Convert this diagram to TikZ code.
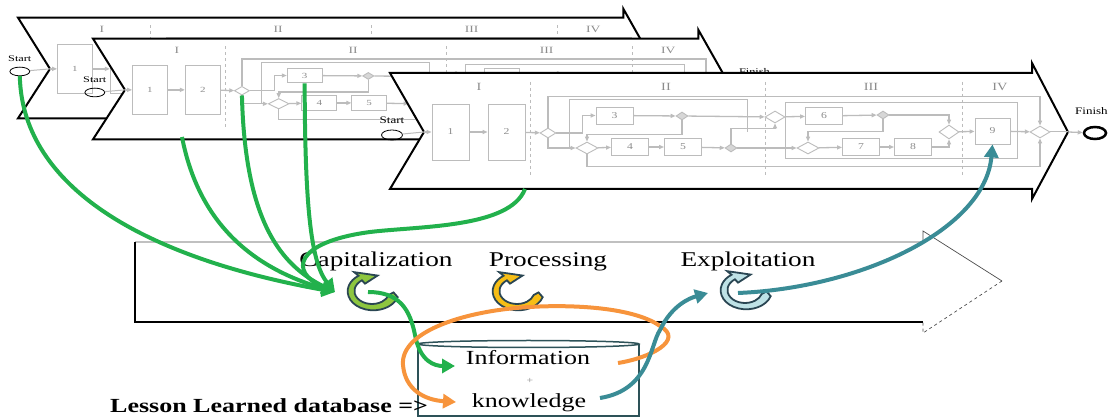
\documentclass[tikz,border=0pt]{standalone}
\usepackage{fontspec}
\setmainfont{Liberation Serif}[FakeStretch=1.3]
\usetikzlibrary{arrows.meta,shapes.geometric}

\definecolor{flytgraa}{RGB}{188,188,188}
\definecolor{tekstgraa}{RGB}{140,140,140}
\definecolor{kapgronn}{RGB}{34,177,76}
\definecolor{prosoransje}{RGB}{247,148,60}
\definecolor{utnteal}{RGB}{58,140,150}
\definecolor{ikonkant}{RGB}{42,70,83}
\definecolor{ikongronn}{RGB}{141,198,63}
\definecolor{ikongul}{RGB}{246,190,22}
\definecolor{ikonblaa}{RGB}{190,226,230}
\definecolor{dbkant}{RGB}{45,82,88}

\tikzset{
	lagkant/.style={draw=black,line width=2,fill=white},
	fase/.style={text=tekstgraa,font=\fontsize{11}{11}\selectfont,inner sep=0},
	skille/.style={draw=flytgraa,dashed,line width=0.8},
	boks/.style={draw=flytgraa,fill=white,line width=0.9,minimum width=37,
		minimum height=17,inner sep=0,text=tekstgraa,font=\fontsize{9}{9}\selectfont},
	ruter/.style={diamond,draw=flytgraa,fill=white,line width=0.9,
		minimum width=16,minimum height=10,inner sep=0},
	punkt/.style={ruter,minimum width=12,minimum height=8,fill=flytgraa!60},
	flyt/.style={draw=flytgraa,line width=1.3,-{Triangle[length=5pt,width=4pt]}},
	linje/.style={draw=flytgraa,line width=1},
	startring/.style={ellipse,draw=black,line width=0.8,minimum width=21,
		minimum height=10,inner sep=0},
	sluttring/.style={ellipse,draw=black,line width=2.5,minimum width=22,
		minimum height=12,inner sep=0},
	liten/.style={font=\fontsize{10}{10}\selectfont,inner sep=0},
	stor/.style={font=\fontsize{21}{21}\selectfont,inner sep=0,anchor=base},
	pil/.style={line width=4,-{Triangle[length=13pt,width=14pt]}},
	pics/ikon/.style={code={
		\filldraw[fill=#1,draw=ikonkant,line width=1.8] (5:16) -- (18:20)
			arc[start angle=18,end angle=235,radius=19] -- (235:23) -- (285:16)
			-- (235:9) -- (235:13) arc[start angle=235,end angle=18,radius=13] -- cycle;
	}}
}

% ett prosesslag (pil med flytskjema)
\newcommand\prosesslag[1]{%
	\filldraw[lagkant] (-34,-58) -- (608,-58) -- (608,-68) -- (644,1)
		-- (608,68) -- (608,58) -- (-34,58) -- (0,1) -- cycle;
	\foreach \x/\r in {55/I,242/II,447/III,576/IV}
		\node[fase] (#1fase\r) at (\x,-44) {\r};
	\foreach \x in {106,341,538}
		\draw[skille] (\x,-49) -- (\x,44);
	\coordinate (#1inn) at (0,1);
	\coordinate (#1spiss) at (644,1);
	\node[startring] (#1s) at (-32,4) {};
	\node[liten] (#1st) at (-32,-11) {Start};
	\node[sluttring] (#1e) at (671,2) {};
	\node[liten,anchor=west] (#1et) at (651,-20) {Finish};
	\node[boks,minimum height=56] (#1b1) at (26.5,1) {1};
	\node[boks,minimum height=56] (#1b2) at (82.5,1) {2};
	\node[boks] (#1b3) at (190.5,-15.5) {3};
	\node[boks] (#1b4) at (206,16) {4};
	\node[boks] (#1b5) at (259,16) {5};
	\node[boks] (#1b6) at (400,-15) {6};
	\node[boks] (#1b7) at (437,16) {7};
	\node[boks] (#1b8) at (489,16) {8};
	\node[boks,minimum width=35,minimum height=26] (#1b9) at (568.5,0) {9};
	\node[ruter] (#1d1) at (124,2) {};
	\node[ruter,minimum width=22,minimum height=12] (#1d2) at (163,17) {};
	\node[punkt] (#1m1) at (258,-15) {};
	\node[punkt] (#1m2) at (307,17) {};
	\node[ruter,minimum width=20,minimum height=12] (#1x1) at (351,-14) {};
	\node[punkt] (#1m3) at (459,-16) {};
	\node[ruter,minimum width=22,minimum height=12] (#1d3) at (384,17) {};
	\node[ruter,minimum width=20,minimum height=14] (#1d4) at (525,1) {};
	\node[ruter,minimum width=20,minimum height=12] (#1d5) at (616,1) {};
	\draw[linje] (#1s) -- (#1inn);
	\draw[flyt] (#1inn) -- (#1b1);
	\draw[flyt] (#1b1) -- (#1b2);
	\draw[flyt] (#1b2) -- (#1d1);
	\draw[flyt] (#1d1.east) -- ++(26,0) |- (#1b3);
	\draw[flyt] (#1d1.south) |- (#1d2);
	\draw[flyt] (#1d2) -- (#1b4);
	\draw[flyt] (#1b4) -- (#1b5);
	\draw[flyt] (#1b5) -- (#1m2);
	\draw[flyt] (#1b3) -- (#1m1);
	\draw[flyt] (#1m1.south) -- ++(0,14) -| (#1d2.north);
	\draw[flyt] (#1m1) -- (#1x1);
	\draw[flyt] (#1m2.north) -- ++(0,-15) -| (#1x1.south);
	\draw[flyt] (#1m2) -- (#1d3);
	\draw[flyt] (#1x1) -- (#1b6);
	\draw[flyt] (#1b6) -- (#1m3);
	\draw[flyt] (#1m3) -| (#1d4.north);
	\draw[flyt] (#1m3.south) -- ++(0,12) -| (#1d3.north);
	\draw[flyt] (#1d3) -- (#1b7);
	\draw[flyt] (#1b7) -- (#1b8);
	\draw[flyt] (#1b8) -| (#1d4.south);
	\draw[flyt] (#1d4) -- (#1b9);
	\draw[flyt] (#1b9) -- (#1d5);
	\draw[linje] (#1d5) -- (#1spiss);
	\draw[flyt] (#1spiss) -- (#1e);
	\draw[flyt] (#1d1.north) -- ++(0,-31) -| (#1d5.north);
	\draw[flyt] (#1d2.south) -- ++(0,12) -| (#1d5.south);
	\draw[linje] (145,17) -- (145,-31) -| (323,1);
	\draw[linje] (361,-28) rectangle (593,28);
}

\begin{document}
\begin{tikzpicture}[x=1pt,y=-1pt]
	\useasboundingbox (0,0) rectangle (1109,419);

	% Prosesslag
	\begin{scope}[shift={(50,68)},xscale=0.943,yscale=0.87,transform shape]
		\prosesslag{A}
	\end{scope}
	\begin{scope}[shift={(125,89)},xscale=0.943,yscale=0.87,transform shape]
		\prosesslag{B}
	\end{scope}
	\begin{scope}[shift={(424,131)}]
		\prosesslag{C}
	\end{scope}

	% Kunnskapspil
	\draw[line width=0.7,draw=black!70] (135,242) -- (923,242) -- (923,231) -- (1002,281);
	\draw[line width=0.7,draw=black!70,dashed] (1002,281) -- (923,333) -- (923,322);
	\draw[line width=1.6] (135,242) -- (135,322) -- (923,322);
	\node[stor] (kap) at (376,267) {Capitalization};
	\node[stor] (pros) at (548,267) {Processing};
	\node[stor] (utn) at (748,267) {Exploitation};
	\pic[xscale=1.35] at (372,291) {ikon=ikongronn};
	\pic[xscale=1.35] at (517,291) {ikon=ikongul};
	\pic[xscale=1.35] at (745,290) {ikon=ikonblaa};

	% Database
	\filldraw[draw=dbkant,line width=1.5,fill=white] (418,344) -- (418,416) -- (639,416) -- (639,344);
	\draw[draw=dbkant,line width=1.5] (528.5,344) ellipse[x radius=110.5,y radius=3.5];
	\node[stor,font=\fontsize{20}{20}\selectfont] (info) at (528,365) {Information};
	\node[inner sep=0,text=tekstgraa,font=\fontsize{9}{9}\selectfont] (pluss) at (530,381) {+};
	\node[stor,font=\fontsize{20}{20}\selectfont] (kunn) at (529,408) {knowledge};
	\node[stor,anchor=base west,font=\bfseries\fontsize{20}{20}\selectfont] (lldb) at (110,413) {Lesson Learned database =>};

	% Kapitalisering (grønne piler)
	\coordinate (g2) at (182,137);
	\coordinate (g5) at (525,189);
	\coordinate (kapinn) at (335,292);
	\coordinate (kapmidt) at (368,292);
	\coordinate (infoV) at (455,366);
	\draw[pil,kapgronn] (As.south) .. controls (22,180) and (130,255) .. (kapinn);
	\draw[pil,kapgronn] (g2) .. controls (200,230) and (260,270) .. (kapinn);
	\draw[pil,kapgronn] (Bd1.south) .. controls (245,220) and (280,265) .. (kapinn);
	\draw[pil,kapgronn] (Bb3.south) .. controls (305,200) and (310,262) .. (kapinn);
	\draw[pil,kapgronn] (g5) .. controls (510,228) and (420,226) .. (370,232)
		.. controls (295,242) and (288,272) .. (kapinn);
	\draw[pil,kapgronn] (kapmidt) .. controls (400,292) and (410,310) .. (415,335)
		.. controls (420,362) and (435,366) .. (infoV);

	% Behandling (oransje pil)
	\coordinate (infoH) at (618,363);
	\coordinate (kunnV) at (456,402);
	\draw[pil,prosoransje] (infoH) .. controls (650,358) and (685,340) .. (660,326)
		.. controls (630,305) and (560,305) .. (530,307)
		.. controls (470,310) and (400,330) .. (403,365)
		.. controls (405,390) and (425,400) .. (kunnV);

	% Utnyttelse (blå piler)
	\coordinate (kunnH) at (600,398);
	\coordinate (utninn) at (708,293);
	\coordinate (utnmidt) at (738,293);
	\draw[pil,utnteal] (kunnH) .. controls (650,390) and (650,345) .. (660,330)
		.. controls (672,305) and (690,298) .. (utninn);
	\draw[pil,utnteal] (utnmidt) .. controls (860,288) and (985,230) .. (Cb9.south);
\end{tikzpicture}
\end{document}
